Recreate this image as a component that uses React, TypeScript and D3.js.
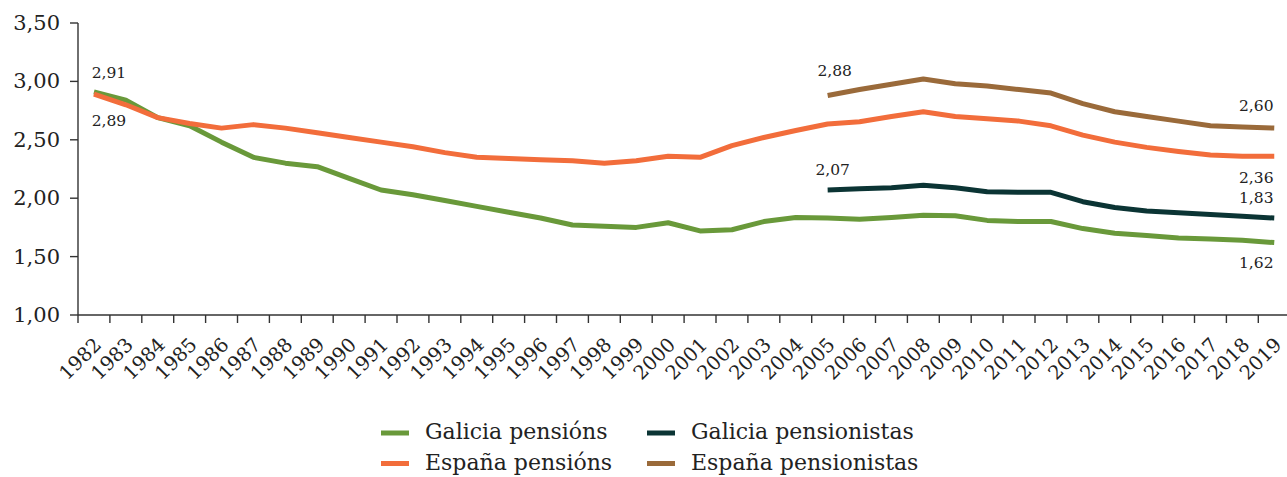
import React from "react";
import * as d3 from "d3";

const years: string[] = [
  "1982","1983","1984","1985","1986","1987","1988","1989","1990","1991",
  "1992","1993","1994","1995","1996","1997","1998","1999","2000","2001",
  "2002","2003","2004","2005","2006","2007","2008","2009","2010","2011",
  "2012","2013","2014","2015","2016","2017","2018","2019",
];

const galiciaPensions: number[] = [
  2.91, 2.84, 2.69, 2.62, 2.48, 2.35, 2.30, 2.27, 2.17, 2.07,
  2.03, 1.98, 1.93, 1.88, 1.83, 1.77, 1.76, 1.75, 1.79, 1.72,
  1.73, 1.80, 1.835, 1.83, 1.82, 1.835, 1.855, 1.85, 1.81, 1.80,
  1.80, 1.74, 1.70, 1.68, 1.66, 1.65, 1.64, 1.62,
];

const espanaPensions: number[] = [
  2.89, 2.80, 2.69, 2.64, 2.60, 2.63, 2.60, 2.56, 2.52, 2.48,
  2.44, 2.39, 2.35, 2.34, 2.33, 2.32, 2.30, 2.32, 2.36, 2.35,
  2.45, 2.52, 2.58, 2.635, 2.655, 2.70, 2.74, 2.70, 2.68, 2.66,
  2.62, 2.54, 2.48, 2.435, 2.40, 2.37, 2.36, 2.36,
];

const pensionistYears: string[] = [
  "2005","2006","2007","2008","2009","2010","2011","2012",
  "2013","2014","2015","2016","2017","2018","2019",
];

const galiciaPensionistas: number[] = [
  2.07, 2.08, 2.09, 2.11, 2.09, 2.055, 2.05, 2.05,
  1.97, 1.92, 1.89, 1.875, 1.86, 1.845, 1.83,
];

const espanaPensionistas: number[] = [
  2.88, 2.93, 2.975, 3.02, 2.98, 2.96, 2.93, 2.90,
  2.81, 2.74, 2.70, 2.66, 2.62, 2.61, 2.60,
];

const yTicks: number[] = [1.0, 1.5, 2.0, 2.5, 3.0, 3.5];

const seriesNames: string[] = [
  "Galicia pensións",
  "España pensións",
  "Galicia pensionistas",
  "España pensionistas",
];

const COLORS = ["#69993a", "#f26d3b", "#0b3434", "#9a6a3a"];
const FONT = "'DejaVu Serif', serif";

const fmt = (v: number) => v.toFixed(2).replace(".", ",");

export default function App() {
  const W = 1287;
  const H = 477;
  const left = 78;
  const top = 23;
  const bottom = 315;
  const step = 31.9;

  const x = d3
    .scaleBand<string>()
    .domain(years)
    .range([left, left + step * years.length])
    .padding(0);
  const cx = (yr: string) => (x(yr) as number) + x.bandwidth() / 2;
  const y = d3.scaleLinear().domain([1, 3.5]).range([bottom, top]);

  type P = { yr: string; v: number };
  const line = d3
    .line<P>()
    .x((d) => cx(d.yr))
    .y((d) => y(d.v));

  const series: P[][] = [
    years.map((yr, i) => ({ yr, v: galiciaPensions[i] })),
    years.map((yr, i) => ({ yr, v: espanaPensions[i] })),
    pensionistYears.map((yr, i) => ({ yr, v: galiciaPensionistas[i] })),
    pensionistYears.map((yr, i) => ({ yr, v: espanaPensionistas[i] })),
  ];

  // data labels: [series index, point index (-1 = last), dx, dy]
  const labelSpecs: [number, number, number, number][] = [
    [0, 0, 15, -14],
    [1, 0, 15, 32],
    [3, 0, 7, -19],
    [2, 0, 5, -15.5],
    [3, -1, -18, -17],
    [1, -1, -18, 27],
    [2, -1, -18, -15],
    [0, -1, -18, 25.5],
  ];

  const ticksX = d3.range(years.length).map((i) => left + i * x.step());

  const legendRows = [
    { i: 0, col: 0, row: 0 },
    { i: 2, col: 1, row: 0 },
    { i: 1, col: 0, row: 1 },
    { i: 3, col: 1, row: 1 },
  ];
  const legendCols = [381, 647];
  const legendRowsY = [433, 463.5];

  return (
    <svg
      width={W}
      height={H}
      style={{ position: "absolute", left: 0, top: 0, background: "#fff" }}
      fontFamily={FONT}
    >
      {/* Y axis */}
      <line x1={left} x2={left} y1={top} y2={bottom} stroke="#333" strokeWidth={1.4} />
      {yTicks.map((t) => (
        <g key={t}>
          <line x1={left - 8} x2={left} y1={y(t)} y2={y(t)} stroke="#333" strokeWidth={1.4} />
          <text
            x={60}
            y={y(t)}
            textAnchor="end"
            dominantBaseline="central"
            fontSize={21}
            fill="#222"
          >
            {fmt(t)}
          </text>
        </g>
      ))}

      {/* X axis */}
      <line x1={left} x2={W} y1={bottom} y2={bottom} stroke="#333" strokeWidth={1.4} />
      {ticksX.map((tx, i) => (
        <line key={i} x1={tx} x2={tx} y1={bottom} y2={bottom + 8} stroke="#333" strokeWidth={1.4} />
      ))}
      {years.map((yr) => (
        <text
          key={yr}
          transform={`translate(${cx(yr) + 8.5},${bottom + 31}) rotate(-45)`}
          textAnchor="end"
          fontSize={19.5}
          fill="#222"
        >
          {yr}
        </text>
      ))}

      {/* Lines */}
      {series.map((s, i) => (
        <path
          key={i}
          d={line(s) as string}
          fill="none"
          stroke={COLORS[i]}
          strokeWidth={5}
          strokeLinejoin="round"
        />
      ))}

      {/* Data labels */}
      {labelSpecs.map(([si, pi, dx, dy], k) => {
        const s = series[si];
        const p = pi < 0 ? s[s.length - 1] : s[pi];
        return (
          <text
            key={k}
            x={cx(p.yr) + dx}
            y={y(p.v) + dy}
            textAnchor="middle"
            fontSize={15.5}
            fill="#222"
          >
            {fmt(p.v)}
          </text>
        );
      })}

      {/* Legend */}
      {legendRows.map(({ i, col, row }) => (
        <g key={i}>
          <line
            x1={legendCols[col]}
            x2={legendCols[col] + 28}
            y1={legendRowsY[row]}
            y2={legendRowsY[row]}
            stroke={COLORS[i]}
            strokeWidth={5}
          />
          <text
            x={legendCols[col] + 44}
            y={legendRowsY[row] + 6}
            fontSize={22}
            fill="#222"
          >
            {seriesNames[i]}
          </text>
        </g>
      ))}
    </svg>
  );
}
